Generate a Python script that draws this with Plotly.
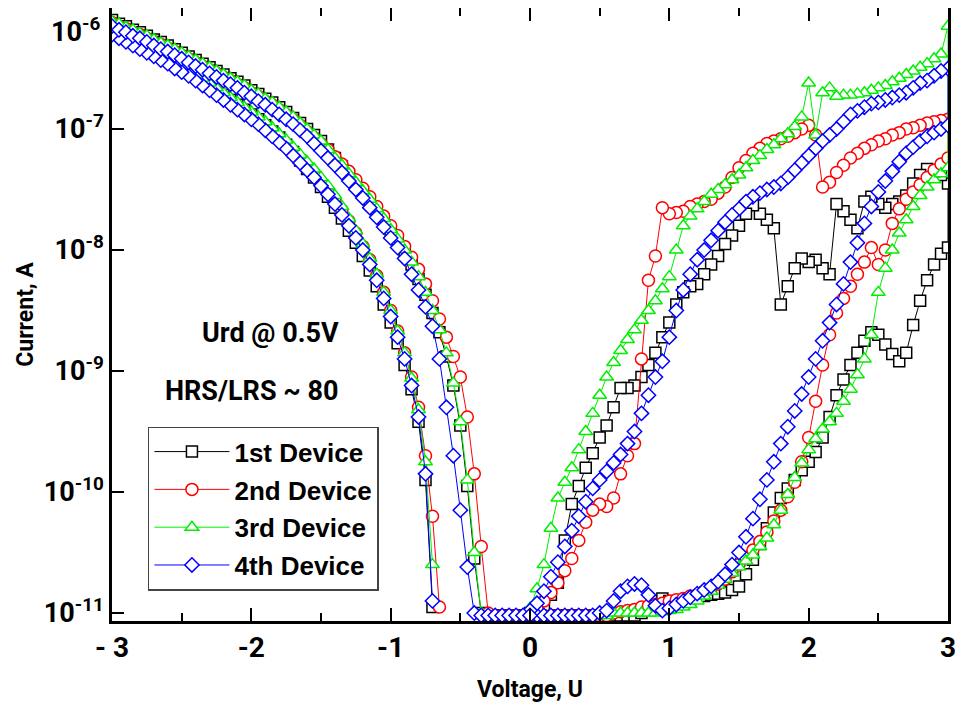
import plotly.graph_objects as go

# ---------------- data (log10 of current in A) ----------------
V_UP = [0.00, 0.05, 0.10, 0.15, 0.20, 0.25, 0.30, 0.35, 0.40, 0.45,
        0.50, 0.55, 0.60, 0.65, 0.70, 0.75, 0.80, 0.85, 0.90, 0.95,
        1.00, 1.05, 1.10, 1.15, 1.20, 1.25, 1.30, 1.35, 1.40, 1.45,
        1.50, 1.55, 1.60, 1.65, 1.70, 1.75, 1.80, 1.85, 1.90, 1.95,
        2.00, 2.05, 2.10, 2.15, 2.20, 2.25, 2.30, 2.35, 2.40, 2.45,
        2.50, 2.55, 2.60, 2.65, 2.70, 2.75, 2.80, 2.85, 2.90, 2.95,
        3.00]
V_NEG = [0.00, -0.05, -0.10, -0.15, -0.20, -0.25, -0.30, -0.35, -0.40, -0.45,
         -0.50, -0.55, -0.60, -0.65, -0.70, -0.75, -0.80, -0.85, -0.90, -0.95,
         -1.00, -1.05, -1.10, -1.15, -1.20, -1.25, -1.30, -1.35, -1.40, -1.45,
         -1.50, -1.55, -1.60, -1.65, -1.70, -1.75, -1.80, -1.85, -1.90, -1.95,
         -2.00, -2.05, -2.10, -2.15, -2.20, -2.25, -2.30, -2.35, -2.40, -2.45,
         -2.50, -2.55, -2.60, -2.65, -2.70, -2.75, -2.80, -2.85, -2.90, -2.95,
         -3.00]

# 1st device (0 -> 3 V sweep, on V_UP)
DEV1_HRS = [-11.02, -11.02, -11.02, -11.02, -11.02, -11.02, -11.02, -11.02, -11.02, -11.02,
            -11.02, -11.02, -11.02, -11.02, -11.02, -11.02, -11.0, -10.96, -10.9, -10.88,
            -10.9, -10.93, -10.9, -10.88, -10.87, -10.86, -10.85, -10.84, -10.83, -10.81,
            -10.78, -10.68, -10.56, -10.43, -10.3, -10.17, -10.05, -9.97, -9.9, -9.82,
            -9.75, -9.67, -9.55, -9.38, -9.2, -9.07, -8.95, -8.85, -8.75, -8.68,
            -8.7, -8.78, -8.86, -8.92, -8.85, -8.62, -8.42, -8.25, -8.12, -8.03,
            -7.98]
# 3 -> 0 V sweep (listed from 3.00 down to 0.00)
DEV1_LRS = [-7.45, -7.38, -7.35, -7.33, -7.38, -7.45, -7.55, -7.6, -7.62, -7.65,
            -7.62, -7.56, -7.6, -7.82, -7.75, -7.68, -7.62, -8.2, -8.15, -8.08,
            -8.1, -8.07, -8.15, -8.3, -8.45, -7.82, -7.75, -7.7, -7.63, -7.7,
            -7.8, -7.88, -7.95, -8.05, -8.12, -8.2, -8.28, -8.3, -8.35, -8.45,
            -8.6, -8.72, -8.85, -8.95, -9.05, -9.12, -9.14, -9.14, -9.3, -9.45,
            -9.55, -9.68, -9.8, -9.95, -10.1, -10.4, -10.75, -10.85, -10.95, -10.98,
            -11.0]
# 0 -> -3 V sweep (on V_NEG)
DEV1_NEG_OUT = [None, None, None, None, None, None, None, None, None, None,
                None, None, None, None, -10.95, -9.9, -9.42, -9.15, -8.95, -8.77,
                -8.6, -8.45, -8.3, -8.17, -8.05, -7.94, -7.84, -7.74, -7.65, -7.56,
                -7.48, -7.4, -7.33, -7.26, -7.19, -7.13, -7.07, -7.02, -6.97, -6.92,
                -6.88, -6.84, -6.8, -6.76, -6.72, -6.68, -6.64, -6.6, -6.56, -6.52,
                -6.49, -6.46, -6.42, -6.39, -6.36, -6.33, -6.3, -6.27, -6.24, -6.21,
                -6.18]
# -3 -> 0 V sweep (values listed on V_NEG order)
DEV1_NEG_BACK = [-11.02, -11.02, -11.02, -11.02, -11.02, -11.02, -11.02, -11.0, -10.55, -9.95,
                 -9.45, -9.12, -8.88, -8.68, -8.52, -8.37, -8.24, -8.12, -8.02, -7.92,
                 -7.84, -7.75, -7.67, -7.59, -7.52, -7.45, -7.38, -7.31, -7.24, -7.17,
                 -7.1, -7.05, -7.0, -6.95, -6.91, -6.86, -6.82, -6.78, -6.75, -6.71,
                 -6.68, -6.64, -6.61, -6.58, -6.55, -6.52, -6.49, -6.46, -6.43, -6.4,
                 -6.37, -6.34, -6.31, -6.28, -6.26, -6.23, -6.2, -6.18, -6.15, -6.13,
                 -6.1]

# 2nd device
DEV2_HRS = [-11.02, -11.02, -11.02, -11.02, -11.02, -11.02, -11.02, -11.02, -11.02, -11.02,
            -11.02, -11.02, -11.0, -10.99, -10.98, -10.97, -10.95, -10.94, -10.93, -10.92,
            -10.9, -10.89, -10.88, -10.86, -10.85, -10.82, -10.8, -10.76, -10.72, -10.66,
            -10.6, -10.54, -10.48, -10.41, -10.33, -10.24, -10.15, -10.04, -9.92, -9.75,
            -9.55, -9.25, -8.95, -8.7, -8.52, -8.4, -8.3, -8.2, -8.1, -7.98,
            -8.12, -8.0, -7.78, -7.66, -7.58, -7.52, -7.46, -7.4, -7.34, -7.29,
            -7.24]
DEV2_LRS = [-6.92, -6.93, -6.94, -6.95, -6.97, -6.99, -7.0, -7.03, -7.05, -7.08,
            -7.1, -7.13, -7.16, -7.2, -7.24, -7.3, -7.36, -7.44, -7.48, -7.05,
            -6.97, -7.0, -7.03, -7.06, -7.08, -7.1, -7.12, -7.16, -7.2, -7.26,
            -7.32, -7.4, -7.48, -7.53, -7.58, -7.6, -7.62, -7.64, -7.68, -7.69,
            -7.7, -7.65, -8.05, -8.25, -8.9, -9.6, -9.7, -9.85, -10.05, -10.12,
            -10.1, -10.15, -10.25, -10.4, -10.55, -10.65, -10.75, -10.83, -10.9, -10.96,
            -11.0]
DEV2_NEG_OUT = [None, None, None, None, None, None, None, None, None, None,
                None, None, None, -10.95, -10.2, -9.7, -9.3, -9.05, -8.85, -8.67,
                -8.5, -8.35, -8.21, -8.08, -7.97, -7.86, -7.76, -7.67, -7.59, -7.52,
                -7.45, -7.38, -7.31, -7.25, -7.19, -7.13, -7.08, -7.03, -6.98, -6.93,
                -6.89, -6.85, -6.81, -6.77, -6.73, -6.69, -6.65, -6.61, -6.57, -6.53,
                -6.5, -6.47, -6.43, -6.4, -6.37, -6.34, -6.31, -6.28, -6.25, -6.22,
                -6.19]
DEV2_NEG_BACK = [-11.02, -11.02, -11.02, -11.02, -11.02, -11.02, -11.0, -10.45, -9.85, -9.38,
                 -9.05, -8.88, -8.72, -8.57, -8.42, -8.28, -8.16, -8.06, -7.97, -7.88,
                 -7.8, -7.72, -7.64, -7.56, -7.49, -7.42, -7.35, -7.29, -7.23, -7.17,
                 -7.12, -7.07, -7.02, -6.97, -6.92, -6.88, -6.84, -6.8, -6.77, -6.73,
                 -6.7, -6.66, -6.63, -6.6, -6.57, -6.54, -6.51, -6.48, -6.45, -6.42,
                 -6.39, -6.36, -6.33, -6.3, -6.28, -6.25, -6.22, -6.2, -6.17, -6.15,
                 -6.12]

# 3rd device
DEV3_HRS = [-11.02, -11.02, -11.02, -11.02, -11.02, -11.02, -11.02, -11.02, -11.02, -11.02,
            -11.02, -11.02, -11.0, -11.0, -11.0, -11.0, -11.0, -11.0, -11.0, -10.99,
            -10.98, -10.97, -10.95, -10.93, -10.9, -10.86, -10.82, -10.77, -10.72, -10.67,
            -10.62, -10.57, -10.52, -10.45, -10.38, -10.27, -10.15, -10.02, -9.88, -9.76,
            -9.65, -9.56, -9.48, -9.42, -9.35, -9.25, -9.15, -9.03, -8.9, -8.7,
            -8.35, -8.15, -8.0, -7.86, -7.75, -7.64, -7.55, -7.48, -7.42, -7.37,
            -7.32]
DEV3_LRS = [-6.15, -6.38, -6.42, -6.46, -6.49, -6.52, -6.55, -6.58, -6.61, -6.64,
            -6.66, -6.68, -6.7, -6.71, -6.72, -6.72, -6.73, -6.66, -6.7, -7.05,
            -6.62, -6.9, -6.98, -7.04, -7.08, -7.13, -7.17, -7.22, -7.26, -7.32,
            -7.38, -7.42, -7.46, -7.5, -7.54, -7.6, -7.66, -7.72, -7.8, -8.0,
            -8.22, -8.32, -8.42, -8.5, -8.58, -8.66, -8.74, -8.83, -8.93, -9.05,
            -9.2, -9.35, -9.5, -9.65, -9.8, -9.92, -10.05, -10.3, -10.6, -10.8,
            -10.96]
DEV3_NEG_OUT = [None, None, None, None, None, None, None, None, None, None,
                None, None, None, None, -10.6, -9.75, -9.32, -9.06, -8.85, -8.67,
                -8.5, -8.35, -8.2, -8.07, -7.95, -7.84, -7.74, -7.64, -7.55, -7.47,
                -7.4, -7.33, -7.27, -7.21, -7.15, -7.09, -7.04, -6.99, -6.94, -6.9,
                -6.86, -6.82, -6.78, -6.74, -6.7, -6.66, -6.62, -6.58, -6.55, -6.51,
                -6.48, -6.45, -6.41, -6.38, -6.35, -6.32, -6.29, -6.26, -6.23, -6.2,
                -6.17]
DEV3_NEG_BACK = [-11.02, -11.02, -11.02, -11.02, -11.02, -11.02, -11.02, -11.0, -10.5, -9.9,
                 -9.42, -9.1, -8.85, -8.66, -8.5, -8.35, -8.22, -8.1, -8.0, -7.91,
                 -7.83, -7.74, -7.66, -7.58, -7.51, -7.44, -7.37, -7.3, -7.24, -7.17,
                 -7.1, -7.05, -7.0, -6.95, -6.9, -6.86, -6.82, -6.78, -6.75, -6.71,
                 -6.68, -6.64, -6.61, -6.58, -6.55, -6.52, -6.49, -6.46, -6.43, -6.4,
                 -6.37, -6.34, -6.31, -6.29, -6.26, -6.23, -6.21, -6.18, -6.16, -6.13,
                 -6.11]

# 4th device
DEV4_HRS = [-11.02, -11.02, -11.02, -11.02, -11.02, -11.02, -11.02, -11.02, -11.02, -11.02,
            -11.0, -10.98, -10.9, -10.82, -10.78, -10.76, -10.77, -10.85, -10.94, -10.98,
            -10.96, -10.93, -10.9, -10.87, -10.84, -10.81, -10.78, -10.74, -10.68, -10.6,
            -10.5, -10.37, -10.22, -10.06, -9.9, -9.75, -9.6, -9.46, -9.33, -9.19,
            -9.05, -8.9, -8.75, -8.6, -8.45, -8.28, -8.1, -7.94, -7.78, -7.64,
            -7.52, -7.43, -7.35, -7.27, -7.2, -7.15, -7.1, -7.06, -7.03, -7.0,
            -6.97]
DEV4_LRS = [-6.5, -6.52, -6.56, -6.6, -6.62, -6.66, -6.7, -6.72, -6.74, -6.76,
            -6.78, -6.79, -6.82, -6.85, -6.88, -6.94, -7.0, -7.05, -7.1, -7.16,
            -7.22, -7.28, -7.34, -7.4, -7.45, -7.48, -7.5, -7.53, -7.56, -7.6,
            -7.66, -7.71, -7.77, -7.84, -7.92, -8.0, -8.08, -8.2, -8.33, -8.5,
            -8.72, -8.92, -9.05, -9.2, -9.35, -9.5, -9.6, -9.69, -9.76, -9.83,
            -9.9, -9.97, -10.08, -10.2, -10.32, -10.45, -10.58, -10.7, -10.82, -10.92,
            -10.98]
DEV4_NEG_OUT = [None, None, None, None, None, None, None, None, None, None,
                None, None, None, None, -10.9, -9.85, -9.38, -9.12, -8.9, -8.72,
                -8.55, -8.4, -8.25, -8.12, -8.0, -7.9, -7.8, -7.71, -7.62, -7.54,
                -7.47, -7.4, -7.34, -7.28, -7.22, -7.16, -7.11, -7.06, -7.01, -6.96,
                -6.92, -6.88, -6.84, -6.8, -6.76, -6.72, -6.68, -6.64, -6.6, -6.56,
                -6.53, -6.5, -6.46, -6.43, -6.4, -6.37, -6.34, -6.31, -6.28, -6.25,
                -6.22]
DEV4_NEG_BACK = [-11.02, -11.02, -11.02, -11.02, -11.02, -11.02, -11.02, -11.02, -11.0, -10.62,
                 -10.15, -9.7, -9.3, -8.9, -8.63, -8.47, -8.33, -8.2, -8.07, -7.98,
                 -7.9, -7.81, -7.73, -7.65, -7.57, -7.5, -7.43, -7.36, -7.3, -7.24,
                 -7.18, -7.12, -7.06, -7.01, -6.96, -6.92, -6.88, -6.84, -6.8, -6.77,
                 -6.73, -6.7, -6.66, -6.63, -6.6, -6.57, -6.54, -6.51, -6.48, -6.45,
                 -6.42, -6.39, -6.36, -6.34, -6.31, -6.28, -6.25, -6.23, -6.2, -6.18,
                 -6.15]

DEVICE_NAMES = ["1st Device", "2nd Device", "3rd Device", "4th Device"]
X_TICKS = [-3, -2, -1, 0, 1, 2, 3]
X_TICK_TEXT = ["- 3", "-2", "-1", "0", "1", "2", "3"]
X_MINOR = [-2.5, -1.5, -0.5, 0.5, 1.5, 2.5]
Y_TICKS = [1e-11, 1e-10, 1e-9, 1e-8, 1e-7]
Y_TICK_TEXT = ["10<sup>-11</sup>", "10<sup>-10</sup>", "10<sup>-9</sup>",
               "10<sup>-8</sup>", "10<sup>-7</sup>"]

# ---------------- styles ----------------
COLORS = ["#000000", "#ff0000", "#00ee00", "#0000ff"]
SYMBOLS = ["square", "circle", "triangle-up", "diamond"]
SIZES = [11, 12, 12, 11]
COND = "Roboto, 'Liberation Sans', sans-serif"
ARIAL = "'Liberation Sans', Arial, sans-serif"

devices = [
    (DEV1_HRS, DEV1_LRS, DEV1_NEG_OUT, DEV1_NEG_BACK),
    (DEV2_HRS, DEV2_LRS, DEV2_NEG_OUT, DEV2_NEG_BACK),
    (DEV3_HRS, DEV3_LRS, DEV3_NEG_OUT, DEV3_NEG_BACK),
    (DEV4_HRS, DEV4_LRS, DEV4_NEG_OUT, DEV4_NEG_BACK),
]

fig = go.Figure()
for i, (hrs, lrs, nout, nback) in enumerate(devices):
    xs = V_UP + V_UP[::-1] + V_NEG + V_NEG[::-1]
    logs = hrs + lrs + nout + nback[::-1]
    ys = [None if v is None else 10 ** v for v in logs]
    fig.add_trace(go.Scatter(
        x=xs, y=ys, mode="lines+markers", name=DEVICE_NAMES[i],
        legendgroup=DEVICE_NAMES[i], connectgaps=False,
        line=dict(color=COLORS[i], width=1),
        marker=dict(symbol=SYMBOLS[i], size=SIZES[i], color="white",
                    line=dict(color=COLORS[i], width=1.5)),
    ))

# page body has an 8px default margin: the figure is sized/offset to compensate
fig.update_layout(
    width=949, height=701,
    margin=dict(l=104, r=9, t=0, b=88),
    paper_bgcolor="white", plot_bgcolor="white",
    showlegend=True,
    legend=dict(x=0.043, y=0.317, xanchor="left", yanchor="top",
                bgcolor="white", bordercolor="#444444", borderwidth=1.5,
                font=dict(family=ARIAL, size=26, color="black", weight="bold"),
                traceorder="grouped", tracegroupgap=1, itemwidth=75),
    xaxis=dict(range=[-3, 3], tickmode="array", tickvals=X_TICKS, ticktext=X_TICK_TEXT,
               ticks="inside", ticklen=13, tickwidth=2, tickcolor="black",
               showline=True, linewidth=2.5, linecolor="black", mirror="ticks",
               showgrid=False, zeroline=False,
               minor=dict(tickvals=X_MINOR, ticks="inside", ticklen=8, tickwidth=2,
                          tickcolor="black", showgrid=False),
               tickfont=dict(family=COND, size=28, color="black", weight="bold"),
               title=dict(text="Voltage, U", standoff=18,
                          font=dict(family=COND, size=23, color="black", weight="bold")),
               automargin=False),
    yaxis=dict(type="log", range=[-11.066, -6.0], tickmode="array",
               tickvals=Y_TICKS, ticktext=Y_TICK_TEXT,
               ticks="inside", ticklen=12, tickwidth=2, tickcolor="black",
               showline=True, linewidth=2.5, linecolor="black", mirror=True,
               showgrid=False, zeroline=False,
               tickfont=dict(family=COND, size=27, color="black", weight="bold"),
               title=dict(text="Current, A", standoff=4,
                          font=dict(family=COND, size=23, color="black", weight="bold")),
               automargin=False),
    annotations=[
        dict(text="10<sup>-6</sup>", xref="paper", yref="paper", x=-0.012, y=1.0,
             xanchor="right", yanchor="top", yshift=-2, showarrow=False,
             font=dict(family=COND, size=27, color="black", weight="bold")),
        dict(text="Urd @ 0.5V", xref="paper", yref="paper", x=0.19, y=0.47,
             xanchor="center", yanchor="middle", showarrow=False,
             font=dict(family=COND, size=27, color="black", weight="bold")),
        dict(text="HRS/LRS ~ 80", xref="paper", yref="paper", x=0.167, y=0.375,
             xanchor="center", yanchor="middle", showarrow=False,
             font=dict(family=COND, size=27, color="black", weight="bold")),
    ],
)

fig.write_html("out.html")
